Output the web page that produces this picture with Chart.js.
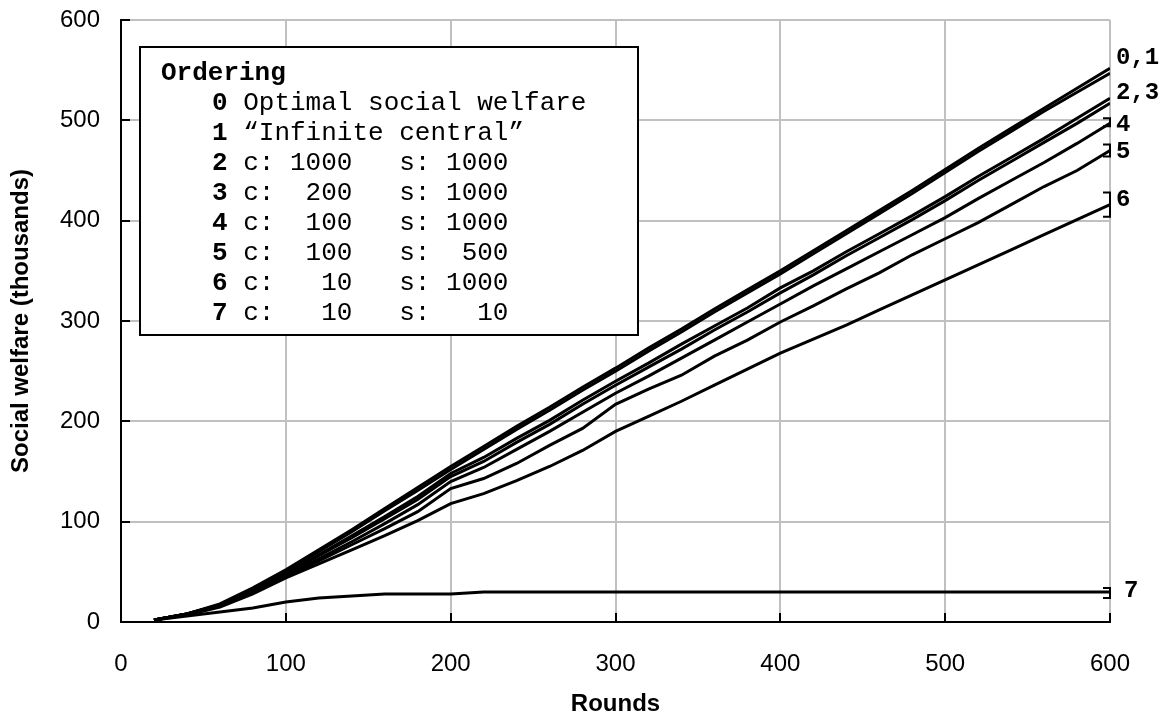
<!DOCTYPE html>
<html>
<head>
<meta charset="utf-8">
<script src="https://cdn.jsdelivr.net/npm/chart.js@4.4.1/dist/chart.umd.min.js"></script>
<style>
body { margin: 0; background: #fff; }
#box { width: 1166px; height: 719px; }
</style>
</head>
<body>
<div id="box"><canvas id="myChart"></canvas></div>
<script>
const rounds = [20, 40, 60, 80, 100, 120, 140, 160, 180, 200, 220, 240, 260, 280, 300,
                320, 340, 360, 380, 400, 420, 440, 460, 480, 500, 520, 540, 560, 580, 600]

// social welfare in thousands, one array per ordering
const optimal   = [2, 8, 18, 34, 52, 72, 92, 113, 134, 155, 175, 195, 214, 234, 253, 273, 292, 312, 331, 350, 370, 390, 410, 430, 451, 472, 492, 512, 532, 552]
const infinite  = [2, 8, 17, 33, 51, 70, 90, 111, 131, 152, 172, 192, 211, 231, 250, 270, 289, 309, 328, 347, 367, 387, 407, 427, 448, 469, 489, 509, 528, 547]
const c1000s1000 = [2, 8, 17, 32, 49, 67, 86, 105, 125, 148, 164, 183, 201, 221, 240, 258, 277, 295, 313, 333, 350, 369, 387, 405, 424, 444, 463, 482, 502, 522]
const c200s1000  = [2, 8, 17, 31, 48, 66, 84, 103, 122, 145, 160, 179, 197, 217, 236, 254, 272, 291, 309, 328, 346, 365, 383, 401, 420, 440, 459, 478, 497, 517]
const c100s1000  = [2, 8, 16, 30, 46, 63, 80, 98, 117, 140, 154, 172, 190, 209, 228, 245, 263, 281, 299, 317, 335, 352, 369, 386, 403, 422, 440, 458, 477, 497]
const c100s500   = [2, 8, 16, 29, 45, 61, 77, 93, 110, 133, 143, 158, 176, 193, 217, 232, 246, 265, 281, 299, 315, 332, 348, 366, 382, 398, 416, 434, 450, 470]
const c10s1000   = [2, 7, 15, 28, 44, 58, 72, 86, 101, 118, 128, 141, 155, 171, 190, 205, 220, 236, 252, 268, 282, 296, 311, 326, 341, 356, 371, 386, 401, 416]
const c10s10     = [2, 6, 10, 14, 20, 24, 26, 28, 28, 28, 30, 30, 30, 30, 30, 30, 30, 30, 30, 30, 30, 30, 30, 30, 30, 30, 30, 30, 30, 30]

const allSeries = [optimal, infinite, c1000s1000, c200s1000, c100s1000, c100s500, c10s1000, c10s10]
const seriesNames = ['Optimal social welfare', '\u201cInfinite central\u201d',
    'c: 1000   s: 1000', 'c:  200   s: 1000', 'c:  100   s: 1000',
    'c:  100   s:  500', 'c:   10   s: 1000', 'c:   10   s:   10']

const xTicks = [0, 100, 200, 300, 400, 500, 600]
const yTicks = [0, 100, 200, 300, 400, 500, 600]

// labels at the right end of the lines
const endLabels = ['0,1', '2,3', '4', '5', '6', '7']
const endLabelValues = [562, 527, 495, 468, 421, 31]

// spread of the final value for orderings 4..7
const bracketLow  = [494, 464, 404, 24]
const bracketHigh = [502, 476, 428, 34]

const mono = "'Liberation Mono', 'Courier New', monospace"
const sans = "'Liberation Sans', Arial, sans-serif"

const datasets = allSeries.map((s, i) => ({
    label: seriesNames[i],
    data: s.map((v, j) => ({x: rounds[j], y: v})),
    borderColor: '#000',
    backgroundColor: '#000',
    borderWidth: 3,
    pointRadius: 0,
    tension: 0,
    fill: false
}))

const extras = {
    id: 'extras',
    afterDraw(chart) {
        const ctx = chart.ctx
        const xs = chart.scales.x
        const ys = chart.scales.y
        const area = chart.chartArea
        ctx.save()

        // inward tick marks
        ctx.strokeStyle = '#000'
        ctx.lineWidth = 2
        ctx.beginPath()
        xTicks.forEach(t => {
            const px = Math.round(xs.getPixelForValue(t))
            ctx.moveTo(px, area.bottom)
            ctx.lineTo(px, area.bottom - 9)
        })
        yTicks.forEach(t => {
            const py = Math.round(ys.getPixelForValue(t))
            ctx.moveTo(area.left, py)
            ctx.lineTo(area.left + 9, py)
        })
        ctx.stroke()

        // brackets
        bracketLow.forEach((lo, i) => {
            const y1 = ys.getPixelForValue(bracketHigh[i])
            const y2 = ys.getPixelForValue(lo)
            const x = area.right
            ctx.beginPath()
            ctx.moveTo(x - 7, y1)
            ctx.lineTo(x, y1)
            ctx.lineTo(x, y2)
            ctx.lineTo(x - 7, y2)
            ctx.stroke()
        })

        // end labels
        ctx.fillStyle = '#000'
        ctx.textBaseline = 'middle'
        ctx.font = 'bold 24px ' + mono
        ctx.textAlign = 'left'
        endLabels.forEach((t, i) => {
            const off = t === '7' ? 14 : 6
            ctx.fillText(t, area.right + off, ys.getPixelForValue(endLabelValues[i]))
        })

        // legend box
        const bx = 140, by = 47, bw = 498, bh = 288
        ctx.fillStyle = '#fff'
        ctx.fillRect(bx, by, bw, bh)
        ctx.strokeStyle = '#000'
        ctx.lineWidth = 2
        ctx.strokeRect(bx, by, bw, bh)
        ctx.fillStyle = '#000'
        ctx.font = 'bold 26px ' + mono
        ctx.fillText('Ordering', 161, 73)
        seriesNames.forEach((name, i) => {
            const y = 103 + i * 30
            ctx.font = 'bold 26px ' + mono
            ctx.fillText(String(i), 212, y)
            const w = ctx.measureText('0 ').width
            ctx.font = '26px ' + mono
            ctx.fillText(name, 212 + w, y)
        })
        ctx.restore()
    }
}

const config = {
    type: 'line',
    data: { datasets: datasets },
    options: {
        responsive: false,
        animation: false,
        layout: { padding: { left: 0, right: 56, top: 20, bottom: 0 } },
        plugins: { legend: { display: false }, tooltip: { enabled: false } },
        scales: {
            x: {
                type: 'linear',
                min: 0, max: 600,
                afterFit: s => { s.height = 97; s.paddingLeft = 0; s.paddingRight = 0 },
                ticks: { stepSize: 100, color: '#000', padding: 28, font: { family: sans, size: 24 } },
                grid: { color: '#c0c0c0', lineWidth: 2, drawTicks: false },
                border: { color: '#000', width: 2 },
                title: { display: true, text: 'Rounds', color: '#000', padding: { top: 0, bottom: 0 },
                    font: { family: sans, size: 24, weight: 'bold' } }
            },
            y: {
                min: 0, max: 600,
                afterFit: s => { s.width = 121; s.paddingTop = 0; s.paddingBottom = 0 },
                ticks: { stepSize: 100, color: '#000', padding: 21, font: { family: sans, size: 24 } },
                grid: { color: '#c0c0c0', lineWidth: 2, drawTicks: false },
                border: { color: '#000', width: 2 },
                title: { display: true, text: 'Social welfare (thousands)', color: '#000', padding: { top: 7, bottom: 0 },
                    font: { family: sans, size: 24, weight: 'bold' } }
            }
        }
    },
    plugins: [extras]
}

const canvas = document.getElementById('myChart')
canvas.width = 1166
canvas.height = 719
const myChart = new Chart(canvas, config)
</script>
</body>
</html>
